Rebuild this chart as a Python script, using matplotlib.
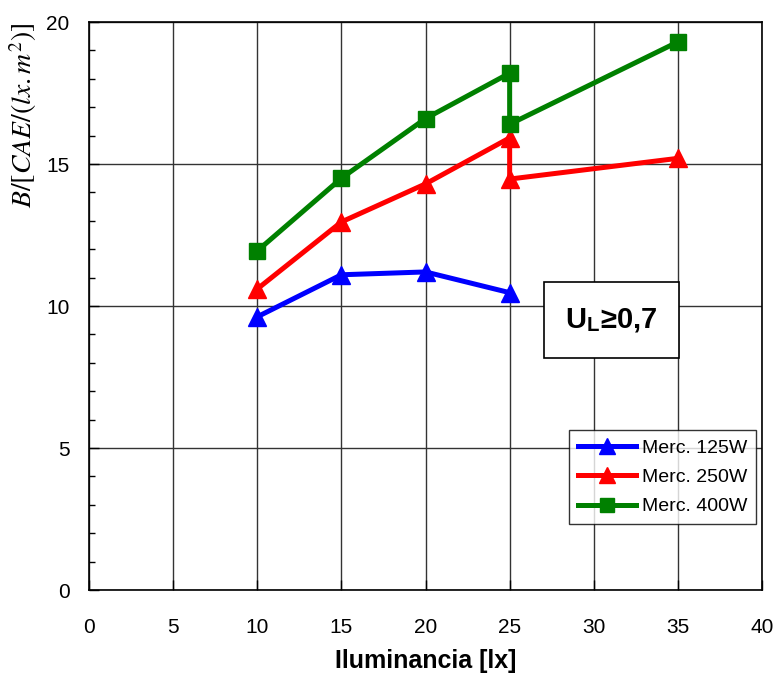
import matplotlib.pyplot as plt
from matplotlib.patches import Rectangle
from matplotlib.ticker import MultipleLocator

plt.rcParams['font.family'] = ['Liberation Sans', 'DejaVu Sans']
plt.rcParams['mathtext.fontset'] = 'stix'

# Illuminance [lx] and B/[CAE/(lx.m2)] per lamp type
x_125 = [10, 15, 20, 25]
y_125 = [9.62, 11.1, 11.2, 10.47]

x_250 = [10, 15, 20, 25, 25, 35]
y_250 = [10.6, 12.96, 14.3, 15.92, 14.47, 15.2]

x_400 = [10, 15, 20, 25, 25, 35]
y_400 = [11.94, 14.5, 16.6, 18.2, 16.4, 19.3]

labels = ['Merc. 125W', 'Merc. 250W', 'Merc. 400W']

fig = plt.figure(figsize=(7.76, 6.73), dpi=100)
ax = fig.add_axes([0.1147, 0.1233, 0.8673, 0.8440])

ax.plot(x_125, y_125, color='#0000ff', lw=3.6, marker='^', ms=13, label=labels[0])
ax.plot(x_250, y_250, color='#ff0000', lw=3.6, marker='^', ms=13, label=labels[1])
ax.plot(x_400, y_400, color='#008000', lw=3.6, marker='s', ms=12, label=labels[2])

ax.set_xlim(0, 40)
ax.set_ylim(0, 20)
ax.xaxis.set_major_locator(MultipleLocator(5))
ax.yaxis.set_major_locator(MultipleLocator(5))
ax.yaxis.set_minor_locator(MultipleLocator(1))
ax.tick_params(axis='both', which='major', direction='in', length=7,
               labelsize=15, width=1)
ax.tick_params(axis='x', which='major', pad=20)
ax.tick_params(axis='y', which='major', pad=14)
ax.tick_params(axis='y', which='minor', direction='in', length=4, width=1)
ax.tick_params(top=False, right=False)
ax.grid(True, which='major', color='#333333', lw=1)
ax.set_axisbelow(True)
for s in ax.spines.values():
    s.set_linewidth(1.2)
    s.set_color('black')

ax.set_xlabel('Iluminancia [lx]', fontsize=18, fontweight='bold')
ax.xaxis.set_label_coords(0.5, -0.104)
ax.set_ylabel(r'$B/[CAE/(lx.m^2)]$', fontsize=20)
ax.yaxis.set_label_coords(-0.074, 0.835)

# uniformity condition box
ax.add_patch(Rectangle((0.676, 0.408), 0.20, 0.135, transform=ax.transAxes,
                       facecolor='white', edgecolor='black', lw=1.2, zorder=5))
ax.text(0.776, 0.476, r'U$_\mathregular{L}$≥0,7', transform=ax.transAxes,
        ha='center', va='center', fontsize=21, fontweight='bold', zorder=6)

leg = ax.legend(loc='lower right', bbox_to_anchor=(0.991, 0.116), fontsize=14,
                frameon=True, fancybox=False, edgecolor='black',
                handlelength=3.0, borderpad=0.45, labelspacing=0.6,
                handletextpad=0.3, markerscale=0.85, borderaxespad=0)
leg.get_frame().set_linewidth(1.0)

fig.savefig('out.png', dpi=100)
